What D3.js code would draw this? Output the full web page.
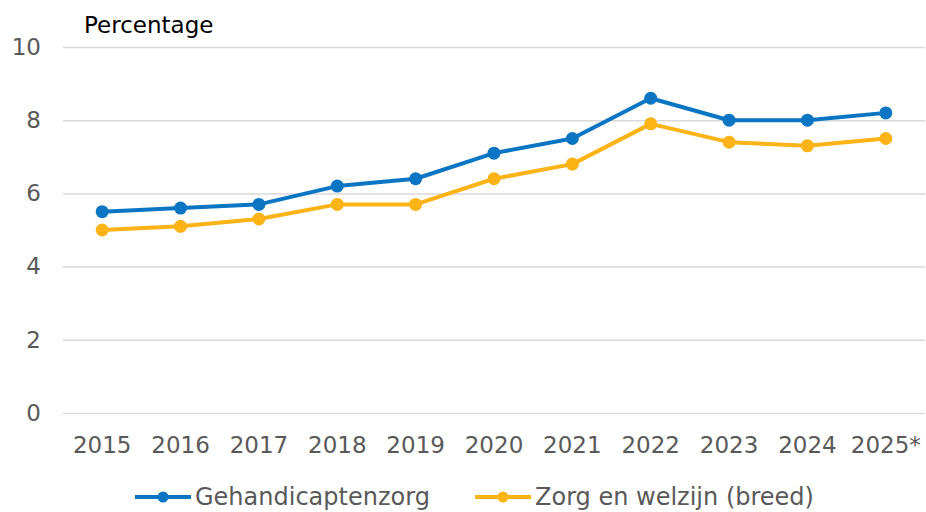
<!DOCTYPE html>
<html><head><meta charset="utf-8">
<script src="https://cdn.jsdelivr.net/npm/d3@7"></script>
<style>body{margin:0;background:#fff}svg{display:block}</style>
</head><body>
<svg id="c" width="926" height="512"></svg>
<script>
const years = ["2015","2016","2017","2018","2019","2020","2021","2022","2023","2024","2025*"];
const gehandicaptenzorg = [5.5,5.6,5.7,6.2,6.4,7.1,7.5,8.6,8.0,8.0,8.2];
const zorgWelzijn = [5.0,5.1,5.3,5.7,5.7,6.4,6.8,7.9,7.4,7.3,7.5];
const yTicks = [0,2,4,6,8,10];
const seriesNames = ["Gehandicaptenzorg","Zorg en welzijn (breed)"];
const colors = ["#0a75c2","#fbb315"];

const svg = d3.select("#c");
const font = "'DejaVu Sans', Verdana, sans-serif";
const fs = "23px";
const x = d3.scaleBand().domain(years).range([63, 925]);
const y = d3.scaleLinear().domain([0,10]).range([413, 47]);

// gridlines
const yAxis = d3.axisLeft(y).tickValues(yTicks).tickSize(-(925-63)).tickPadding(22);
const gy = svg.append("g").attr("transform","translate(63,0)").call(yAxis);
gy.select(".domain").remove();
gy.selectAll(".tick line").attr("stroke","#d9d9d9").attr("stroke-width",1.5);
gy.selectAll(".tick text").attr("fill","#595959").style("font-family",font).style("font-size",fs);

const xAxis = d3.axisBottom(x).tickSize(0).tickPadding(24);
const gx = svg.append("g").attr("transform","translate(0,413)").call(xAxis);
gx.select(".domain").remove();
gx.selectAll(".tick text").attr("fill","#595959").style("font-family",font).style("font-size",fs);

svg.append("text").attr("x",84).attr("y",33).text("Percentage")
  .attr("fill","#000").style("font-family",font).style("font-size",fs);

const data = [gehandicaptenzorg, zorgWelzijn];
const line = d3.line().x((d,i)=>x(years[i])+x.bandwidth()/2).y(d=>y(d));
data.forEach((vals,k)=>{
  svg.append("path").datum(vals).attr("d",line).attr("fill","none")
    .attr("stroke",colors[k]).attr("stroke-width",4).attr("stroke-linejoin","round");
  svg.selectAll(null).data(vals).enter().append("circle")
    .attr("cx",(d,i)=>x(years[i])+x.bandwidth()/2).attr("cy",d=>y(d)).attr("r",6.5)
    .attr("fill",colors[k]);
});

// legend
const legX = [135, 475];
seriesNames.forEach((name,k)=>{
  const g = svg.append("g").attr("transform",`translate(${legX[k]},497)`);
  g.append("line").attr("x1",0).attr("x2",56).attr("y1",0).attr("y2",0)
    .attr("stroke",colors[k]).attr("stroke-width",4);
  g.append("circle").attr("cx",28).attr("cy",0).attr("r",5.5).attr("fill",colors[k]);
  g.append("text").attr("x",60).attr("y",0).attr("dy","0.35em").text(name)
    .attr("fill","#595959").style("font-family",font).style("font-size","24px");
});
</script>
</body></html>
